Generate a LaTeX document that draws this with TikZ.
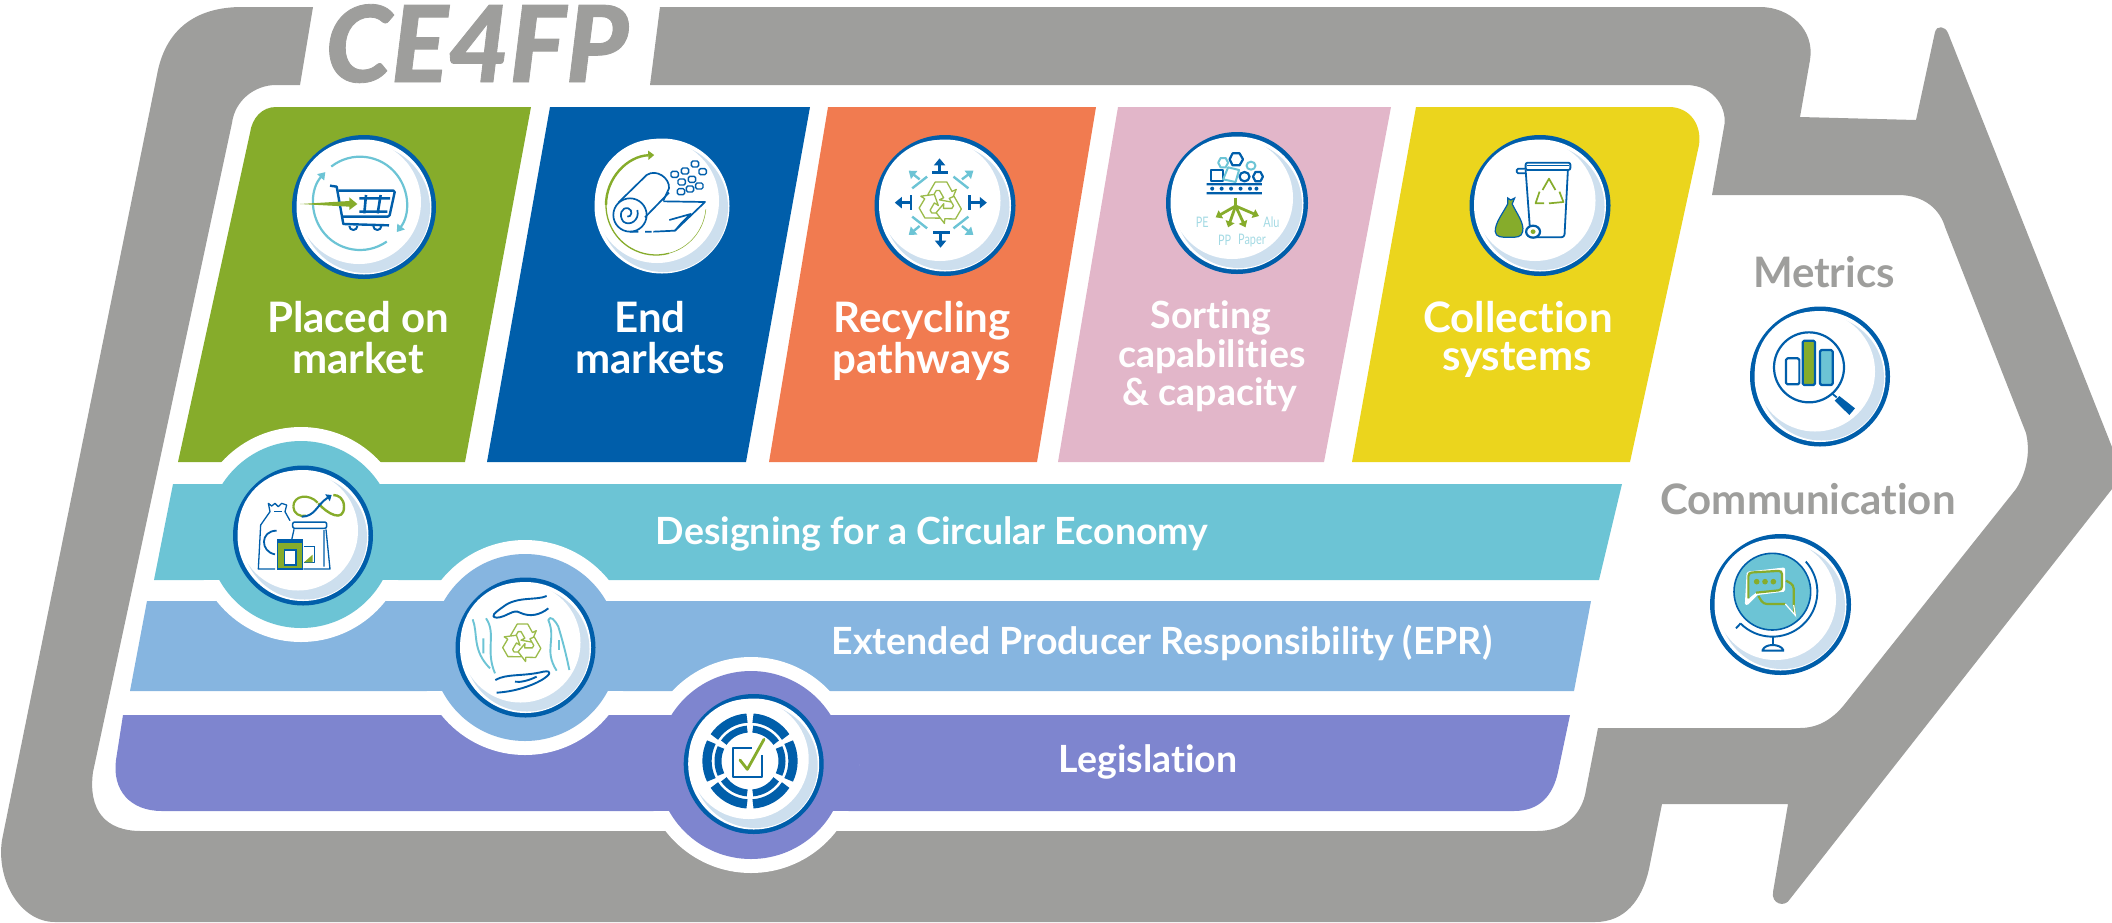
\documentclass[tikz,border=0pt]{standalone}
\usepackage{fontspec}
\setmainfont{Lato}[Ligatures=NoCommon]
\newfontfamily\titlefont[FakeBold=0.8]{Lato Black}
\usetikzlibrary{arrows.meta}
\definecolor{cgray}{HTML}{9E9E9C}
\definecolor{cgreen}{HTML}{86AC2B}
\definecolor{cblue}{HTML}{005EAA}
\definecolor{corange}{HTML}{F17B50}
\definecolor{cpink}{HTML}{E2B6C9}
\definecolor{cyellow}{HTML}{EBD51D}
\definecolor{cteal}{HTML}{6CC4D5}
\definecolor{clblue}{HTML}{86B5E0}
\definecolor{cpurple}{HTML}{7E85CF}
\definecolor{cpale}{HTML}{CDDFEE}
\definecolor{cpgreen}{HTML}{9BBB4A}
\definecolor{cpteal}{HTML}{A4DAE4}
\tikzset{
  lab/.style={text=white,anchor=base,align=center,inner sep=0pt,font=\bfseries\fontsize{42}{42}\selectfont},
  smalllab/.style={lab,font=\bfseries\fontsize{37.5}{38.5}\selectfont},
  bandlab/.style={lab,font=\bfseries\fontsize{37.5}{38}\selectfont},
  sidelab/.style={lab,text=cgray,font=\bfseries\fontsize{42}{42}\selectfont},
  tinylab/.style={text=cpteal,inner sep=0pt,xscale=.75,transform shape,font=\fontsize{14.5}{14.5}\selectfont},
  bl/.style={cblue,line width=#1,line join=round},
  bl/.default=1.2pt,
  gr/.style={cgreen,line width=#1,line join=round},
  gr/.default=1.2pt,
  te/.style={cteal,line width=#1,line join=round},
  te/.default=1.2pt,
  iso/.style={x=0.33333pt,y=-0.33333pt},
  aniso/.style={x=0.4975pt,y=-0.33333pt},
}
\newcommand\discbase[3]{%
  \fill[cblue] (#1,#2) circle[radius=#3];
  \fill[white] (#1,#2) circle[radius=#3-4.5];
  \fill[cpale] (#1+1.5,#2+1.5) circle[radius=#3-7.5];
  \fill[white] (#1-5,#2-5) circle[radius=#3-10];
}
\newcommand\recyc[3]{%
  \foreach \ang in {0,120,240}{
    \draw[cpgreen,line width=1.3pt,line join=round,fill=white,shift={(#1,#2)},rotate=\ang,scale=#3]
      (-12,-8) -- (-5,-20) -- (6,-20) -- (11,-11) -- (15,-13) -- (10,-1) -- (-1,-3) -- (3,-5) -- (-1,-12) -- (-4,-12) -- (-8,-5) -- cycle;
  }
}
\begin{document}
\begin{tikzpicture}[x=1pt,y=-1pt]
\useasboundingbox (0,0) rectangle (2112,922);
% grey arrow frame
\fill[cgray] (313,7) -- (242,7) .. controls (195,7) and (165,30) .. (157,75)
  -- (2,840) .. controls (-4,880) and (20,922) .. (55,922)
  -- (1595,922) .. controls (1625,922) and (1642,900) .. (1649,869)
  -- (1662,804) -- (1788,804) -- (1773,892) .. controls (1771,904) and (1785,908) .. (1790,899)
  -- (2112,489) -- (2112,447) -- (1948,33) .. controls (1945,26) and (1937,25) .. (1935,32)
  -- (1916,120) -- (1800,117) -- (1810,60) .. controls (1815,30) and (1790,7) .. (1760,7)
  -- (660,7) -- (650,85) -- (1686,85) .. controls (1715,85) and (1728,110) .. (1724,127)
  -- (1712,195) -- (1898,195) .. controls (1925,195) and (1940,210) .. (1945,227)
  -- (2026,433) .. controls (2030,450) and (2028,470) .. (2016,489)
  -- (1844,705) .. controls (1830,722) and (1815,728) .. (1800,728)
  -- (1598,728) -- (1585,795) .. controls (1580,815) and (1565,831) .. (1537,831)
  -- (141,831) .. controls (105,831) and (88,810) .. (93,772)
  -- (232,123) .. controls (235,100) and (255,85) .. (276,85) -- (300,85) -- cycle;
\node[anchor=base,inner sep=0pt,text=cgray] (title) at (477,82) {\titlefont\itshape\fontsize{106}{106}\selectfont CE4FP};
% columns
\fill[cgreen] (276,107) .. controls (262,107) and (252,118) .. (250,133) -- (178,462) -- (465,462) -- (531,107) -- cycle;
\fill[cblue] (550,107) -- (810,107) -- (746,462) -- (487,462) -- cycle;
\fill[corange] (828,107) -- (1096,107) -- (1037,462) -- (769,462) -- cycle;
\fill[cpink] (1118,107) -- (1391,107) -- (1324,462) -- (1058,462) -- cycle;
\fill[cyellow] (1416,107) -- (1669,107) .. controls (1690,107) and (1702,125) .. (1699,145) -- (1630,462) -- (1352,462) -- cycle;
% bands
\fill[cteal] (173,484) -- (1622,484) -- (1599,580) -- (154,580) -- cycle;
\fill[clblue] (147,601) -- (1591,601) -- (1574,691) -- (130,691) -- cycle;
\fill[cpurple] (123,715) -- (1570,715) -- (1558,772) .. controls (1553,795) and (1540,811) .. (1514,811) -- (162,811) .. controls (130,811) and (112,790) .. (116,760) -- cycle;
% bumps: the white halo interrupts neighbours only; the band itself runs through
\fill[white] (301,534.5) circle[radius=107.5];
\fill[cteal] (193,484) rectangle (409,580);
\fill[cteal] (301,534.5) circle[radius=93.5];
\fill[white] (525,647.5) circle[radius=107.5];
\fill[clblue] (417,601) rectangle (633,691);
\fill[clblue] (525,647.5) circle[radius=93.5];
\fill[white] (751,765) circle[radius=108];
\fill[cpurple] (643,715) rectangle (859,811);
\fill[cpurple] (751,765) circle[radius=94];
% discs
\discbase{364}{207}{72}
\discbase{662}{206}{72}
\discbase{945}{205.5}{70.5}
\discbase{1237}{203}{71}
\discbase{1540}{205.5}{70.5}
\discbase{303}{535.5}{70}
\discbase{525.5}{647.5}{70}
\discbase{753.7}{764}{70}
\discbase{1820}{376.5}{70}
\discbase{1780.5}{604.5}{70.5}
% labels
\node[lab] (l1) at (358,332) {Placed on};
\node[lab] (l1b) at (358,373) {market};
\node[lab] (l2) at (650,332) {End};
\node[lab] (l2b) at (650,373) {markets};
\node[lab] (l3) at (922,332) {Recycling};
\node[lab] (l3b) at (922,373) {pathways};
\node[smalllab] (l4) at (1211,328) {Sorting};
\node[smalllab] (l4b) at (1212,367) {capabilities};
\node[smalllab] (l4c) at (1210,405) {\& capacity};
\node[lab] (l5) at (1518,332) {Collection};
\node[lab] (l5b) at (1517,370) {systems};
\node[bandlab] (b1) at (932,544) {Designing for a Circular Economy};
\node[bandlab] (b2) at (1162,654) {Extended Producer Responsibility (EPR)};
\node[bandlab] (b3) at (1148,772) {Legislation};
\node[sidelab] (m) at (1824,287) {Metrics};
\node[sidelab] (c) at (1808,514) {Communication};
% icon: cart
\begin{scope}[shift={(270,120)},iso]
  \draw[te=2.2pt,-{Triangle[length=7pt,width=9pt]}] ([shift={(-128:140)}]270,250) arc[start angle=-128,end angle=38,radius=140];
  \draw[te=2.2pt,-{Triangle[length=7pt,width=9pt]}] ([shift={(55:140)}]270,250) arc[start angle=55,end angle=222,radius=140];
  \draw[bl=2.4pt] (180,197) -- (200,200) -- (220,312) -- (357,316);
  \draw[bl=2.4pt,rounded corners=1.5pt] (205,212) -- (375,212) -- (358,290) -- (216,290);
  \draw[bl=2.6pt] (268,235) -- (360,235) (268,275) -- (352,275) (288,225) -- (283,280) (332,225) -- (323,280);
  \draw[bl=2pt] (238,318) arc[start angle=180,end angle=0,radius=12] (310,318) arc[start angle=180,end angle=0,radius=12];
  \fill[cgreen] (90,252) -- (238,243) -- (238,232) -- (262,252) -- (238,270) -- (238,260) -- cycle;
\end{scope}
% icon: roll
\begin{scope}[shift={(270,120)},iso]
  \draw[gr=2.4pt,-{Triangle[length=6pt,width=9pt]}] ([shift={(180:150)}]1158,255) arc[start angle=180,end angle=268,radius=150];
  \draw[gr=1.3pt] ([shift={(180:150)}]1158,255) arc[start angle=180,end angle=75,radius=150];
  \draw[gr=0.5pt] ([shift={(75:150)}]1158,255) arc[start angle=75,end angle=5,radius=150];
  \draw[bl=1.7pt] (1080,285) circle[radius=50];
  \draw[bl=1.7pt] (1072,290) .. controls (1085,292) and (1090,270) .. (1075,265) .. controls (1055,260) and (1045,285) .. (1060,305) .. controls (1080,320) and (1110,300) .. (1102,270);
  \draw[bl=1.7pt] (1045,248) -- (1130,165) .. controls (1160,145) and (1200,175) .. (1197,205) -- (1180,242);
  \draw[bl=1.7pt] (1125,292) -- (1197,218);
  \draw[bl=1.7pt] (1180,244) -- (1305,246) -- (1215,332) -- (1150,335) (1125,335) -- (1145,335) (1080,335) -- (1105,335);
  \draw[bl=1.7pt] (1198,300) -- (1262,282) -- (1232,312) -- (1215,332);
  \foreach \px/\py in {1275/132,1298/155,1245/153,1214/163,1235/186,1266/178,1288/198,1260/207,1233/215}
    \draw[bl=1.4pt,rounded corners=1.5pt] (\px-11,\py-9) rectangle (\px+11,\py+9);
\end{scope}
% icon: recycling pathways
\recyc{940.5}{203}{1.05}
\begin{scope}[shift={(850,120)},aniso]
  \foreach \sx/\sy/\ex/\ey in {180/155/180/115,182/340/182/383,122/248/90/248,240/248/275/248}
    \draw[bl=2.4pt,-{Triangle[length=7pt,width=11pt]}] (\sx,\sy) -- (\ex,\ey);
  \draw[bl=2.4pt] (165,158) -- (197,158) (167,338) -- (200,338) (122,225) -- (122,270) (240,225) -- (240,270);
  \foreach \sx/\sy/\ex/\ey in {140/178/118/152,225/178/248/152,140/318/118/345,225/318/248/345}
    \draw[te=2.4pt,-{Triangle[length=7pt,width=10pt]}] (\sx,\sy) -- (\ex,\ey);
  \draw[te=2.4pt] (125,205) -- (155,170) (238,205) -- (208,170) (125,290) -- (155,325) (238,290) -- (208,325);
\end{scope}
% icon: sorting
\begin{scope}[shift={(850,120)},aniso]
  \draw[bl=2.2pt] (763,118) -- (769,100) -- (783,100) -- (790,118) -- (783,136) -- (769,136) -- cycle;
  \draw[te=2pt] (740,128) -- (745,114) -- (755,114) -- (760,128) -- (755,142) -- (745,142) -- cycle;
  \draw[te=2pt] (806,137) circle[x radius=9,y radius=12];
  \draw[bl=2pt] (725,150) rectangle (750,183);
  \draw[te=2pt] (760,142) -- (782,150) -- (775,186) -- (750,178) -- cycle;
  \draw[bl=2.2pt] (793,170) circle[x radius=10,y radius=14];
  \draw[bl=2.2pt] (810,170) -- (815,156) -- (825,156) -- (830,170) -- (825,184) -- (815,184) -- cycle;
  \fill[cblue] (717,189) rectangle (828,196) (717,216) rectangle (828,223);
  \foreach \px in {728,747,766,785,804,817} \fill[cblue] (\px,206) circle[x radius=4,y radius=6];
  \draw[gr=3.6pt] (775,233) -- (775,258);
  \foreach \ex/\ey in {735/292,760/322,795/322,822/288}
    \draw[gr=2.8pt,-{Triangle[length=6pt,width=9pt]}] (775,258) -- (\ex,\ey);
  \node[tinylab] (pe) at (708,308) {PE};
  \node[tinylab] (alu) at (847,308) {Alu};
  \node[tinylab] (pp) at (753,360) {PP};
  \node[tinylab] (paper) at (808,362) {Paper};
\end{scope}
% icon: bin and bag
\begin{scope}[shift={(850,120)},aniso]
  \draw[bl=1.8pt,rounded corners=2pt] (1358,150) -- (1358,128) -- (1448,128) -- (1448,150) -- cycle;
  \draw[bl=1.2pt] (1360,136) -- (1446,136);
  \draw[bl=1.8pt,rounded corners=1.5pt] (1358,146) -- (1340,146) -- (1340,160) -- (1358,160);
  \draw[bl=1.8pt,rounded corners=3pt] (1358,150) -- (1368,352) -- (1436,352) -- (1443,150);
  \draw[gr=1.7pt] (1392,210) -- (1405,176) -- (1418,210) (1426,215) -- (1434,246) -- (1405,250) (1395,250) -- (1378,250) -- (1386,215);
  \fill[cgreen,draw=cblue,line width=1.2pt] (1322,234) -- (1328,240) -- (1336,234) -- (1331,252) .. controls (1340,280) and (1356,310) .. (1352,335) .. controls (1350,352) and (1340,352) .. (1325,352) .. controls (1310,352) and (1298,352) .. (1297,335) .. controls (1296,310) and (1312,280) .. (1322,252) -- cycle;
  \draw[bl=2.2pt,fill=white] (1373,335) circle[x radius=14,y radius=18];
  \fill[cgreen] (1373,335) circle[x radius=5,y radius=7];
\end{scope}
% icon: design
\begin{scope}[shift={(220,460)},iso]
  \draw[bl=1.3pt] (165,327) -- (115,327) -- (122,195) -- (150,155) -- (145,130) -- (155,138) -- (165,130) -- (175,140) -- (185,130) -- (200,135) -- (195,155) -- (210,182);
  \draw[bl=1.6pt] (162,155) -- (185,155);
  \draw[bl=1.8pt] (170,212) .. controls (120,212) and (120,275) .. (165,283);
  \draw[bl=1.5pt,rounded corners=2pt] (218,205) -- (218,186) -- (320,186) -- (320,205) -- cycle;
  \draw[bl=1.3pt] (222,208) -- (215,240) (318,208) -- (330,327) -- (250,327) (312,210) -- (312,320);
  \fill[cgreen,draw=cblue,line width=1.2pt] (172,238) rectangle (248,327);
  \fill[white,draw=cblue,line width=1.5pt] (193,270) rectangle (228,315);
  \fill[cblue] (175,240) rectangle (245,248);
  \draw[bl=1.3pt] (285,260) -- (252,260) (284,258) -- (284,308) -- (252,308);
  \fill[cgreen] (252,307) -- (278,307) -- (278,284) -- cycle;
  \draw[gr=2.2pt] (293,128) .. controls (268,100) and (220,105) .. (220,140);
  \draw[gr=2.2pt] (220,140) .. controls (220,160) and (240,172) .. (258,167);
  \draw[gr=2.4pt] (295,130) .. controls (320,160) and (372,190) .. (372,140) .. controls (372,115) and (355,105) .. (340,105);
  \draw[bl=2pt,-{Triangle[length=5pt,width=8pt]}] (245,170) .. controls (285,170) and (290,135) .. (335,105);
\end{scope}
% icon: hands
\recyc{522}{643}{0.95}
\begin{scope}[shift={(220,460)},iso]
  \draw[bl=1.9pt] (980,408) .. controls (950,422) and (890,408) .. (850,440) .. controls (825,458) and (808,470) .. (830,473) .. controls (860,472) and (880,445) .. (900,458) .. controls (930,472) and (960,465) .. (985,445);
  \draw[bl=1.9pt] (826,660) .. controls (860,640) and (910,650) .. (970,635) .. controls (1000,630) and (990,645) .. (965,660) .. controls (930,680) and (880,695) .. (830,698);
  \draw[bl=1.9pt] (885,665) .. controls (900,668) and (925,662) .. (950,650);
  \draw[te=1.9pt] (758,478) .. controls (775,520) and (755,570) .. (810,625) (798,475) .. controls (830,520) and (795,570) .. (825,640) (790,535) -- (790,580);
  \draw[te=1.9pt] (1010,632) .. controls (970,570) and (1010,540) .. (985,480) .. controls (990,465) and (1005,480) .. (1015,500) .. controls (1030,550) and (1040,590) .. (1048,630);
  \draw[te=1.9pt] (1018,540) -- (1018,570);
\end{scope}
% icon: legislation
\begin{scope}[shift={(660,680)},iso]
  \foreach \a/\b in {214/266,274/326,334/386,34/86,94/146,154/206}{
    \draw[cblue,line width=9.3pt] ([shift={(\a:129)}]270,243) arc[start angle=\a,end angle=\b,radius=129];
    \draw[cblue,line width=7pt] ([shift={(\a+1:96)}]270,243) arc[start angle=\a+1,end angle=\b-1,radius=96];
  }
  \draw[bl=2pt] (275,205) -- (218,205) -- (218,292) -- (305,292) -- (305,225);
  \draw[cgreen,line width=2.8pt,line cap=round,line join=round] (240,240) -- (262,268) -- (312,178);
\end{scope}
% icon: metrics
\begin{scope}[shift={(1680,290)},iso]
  \draw[bl=2.2pt] (387,232) circle[radius=105];
  \draw[bl=2.2pt,fill=white,rounded corners=1.5pt] (318,205) rectangle (358,283);
  \draw[bl=2.2pt,fill=cgreen,rounded corners=1.5pt] (368,152) rectangle (405,285);
  \draw[bl=2.2pt,fill=cteal,rounded corners=1.5pt] (420,180) rectangle (458,285);
  \draw[bl=1.8pt] (458,312) -- (470,322);
  \fill[cblue] (478,318) -- (525,355) -- (508,375) -- (464,332) -- cycle;
\end{scope}
% icon: communication
\begin{scope}[shift={(1680,290)},iso]
  \draw[bl=1.6pt,fill=cteal] (277,905) circle[radius=115];
  \draw[bl=1.9pt] ([shift={(-42:135)}]277,905) arc[start angle=-42,end angle=135,radius=135];
  \draw[bl=1.9pt] (168,1015) -- (182,1000);
  \draw[bl=2pt] (278,1040) -- (278,1065);
  \draw[bl=2pt] (245,1082) -- (312,1082) (248,1080) .. controls (255,1060) and (300,1060) .. (310,1080);
  \draw[white,line width=3.5pt,line join=round] (205,850) -- (310,838) -- (310,900) -- (230,910) -- (200,940) -- cycle;
  \fill[cteal] (205,848) -- (306,842) -- (306,900) -- (228,908) -- (205,925) -- cycle;
  \draw[cgreen,line width=2.2pt,rounded corners=3.5pt] (205,925) -- (205,848) -- (306,842) -- (306,900) -- (228,908);
  \draw[cgreen,line width=2.2pt,rounded corners=3.5pt] (318,872) -- (341,885) -- (341,945) -- (344,972);
  \draw[cgreen,line width=2.2pt,rounded corners=3.5pt] (235,918) -- (250,942) -- (316,942);
  \draw[white,line width=1.2pt] (316,942) -- (346,976) -- (341,945);
  \foreach \px in {230,255,280} \fill[cgreen] (\px,875) circle[radius=8.5];
\end{scope}
\end{tikzpicture}
\end{document}
